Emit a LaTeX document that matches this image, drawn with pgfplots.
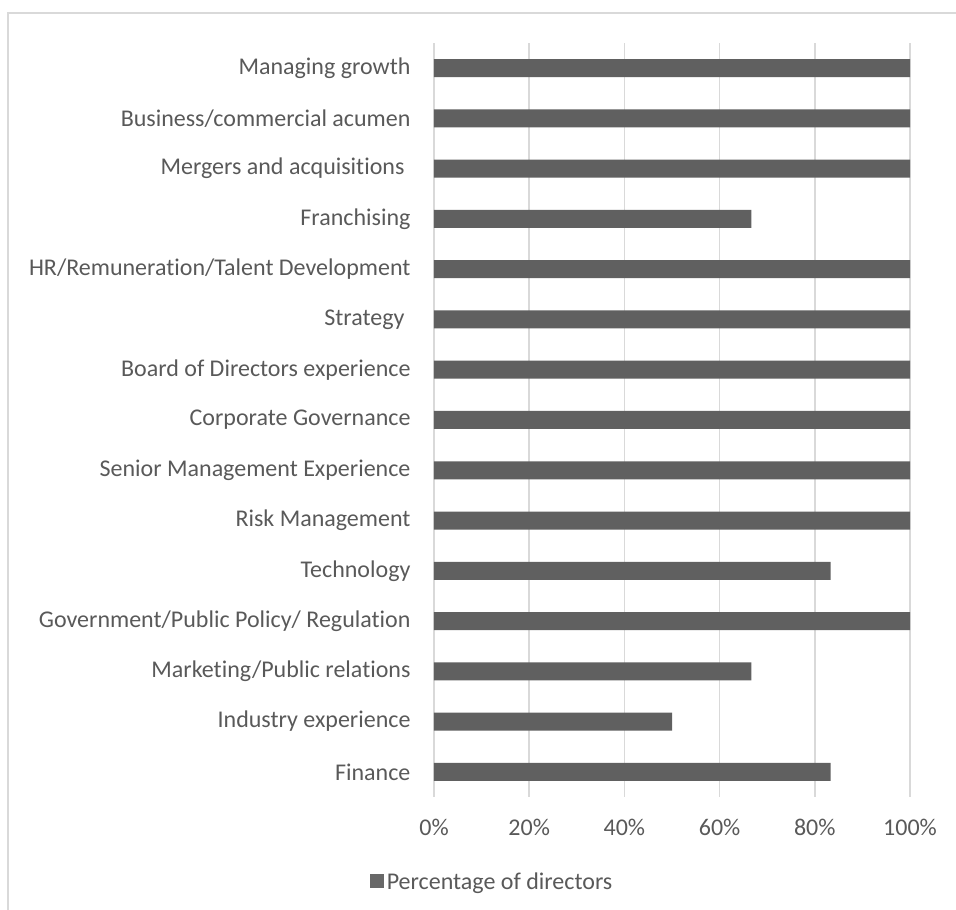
\documentclass[border=0pt]{standalone}
\usepackage{pgfplots}
\pgfplotsset{compat=1.18}
\usepackage{fontspec}
\setmainfont{Carlito}[RawFeature={-liga;-clig;-dlig;-calt}]
\definecolor{barc}{HTML}{606060}
\definecolor{txt}{HTML}{595959}
\definecolor{gridc}{HTML}{D9D9D9}
% break the t-i ligature
\newcommand{\ti}{t\kern0pt i}

\pgfplotstableread{
pos val
0 83.3
1 50
2 66.7
3 100
4 83.3
5 100
6 100
7 100
8 100
9 100
10 100
11 66.7
12 100
13 100
14 100
}\directors

\begin{document}
\begin{tikzpicture}[x=1pt,y=1pt]
\useasboundingbox (0,0) rectangle (956,910);
% outer chart frame (only top and left edges are in view)
\draw[gridc, line width=2pt] (8,-20) -- (8,897) -- (990,897);
\begin{axis}[
    at={(434pt,113pt)}, anchor=south west,
    scale only axis,
    width=476pt, height=754pt,
    xbar, bar width=18pt,
    xmin=0, xmax=100,
    ymin=-0.5, ymax=14.5,
    enlargelimits=false,
    axis line style={draw=none},
    major tick length=0pt,
    xtick={0,20,40,60,80,100},
    xticklabel={\pgfmathprintnumber{\tick}\%},
    xmajorgrids,
    grid style={gridc, line width=1.5pt},
    ytick={0,...,14},
    yticklabels={Finance, Industry experience, Marketing/Public rela\ti ons,
      Government/Public Policy/ Regula\ti on, Technology, Risk Management,
      Senior Management Experience, Corporate Governance,
      Board of Directors experience, Strategy\hspace*{6pt},
      HR/Remunera\ti on/Talent Development, Franchising,
      Mergers and acquisi\ti ons\hspace*{6pt}, Business/commercial acumen,
      Managing growth},
    tick label style={font=\fontsize{24}{28}\selectfont, text=txt},
    xticklabel style={yshift=-19pt},
    yticklabel style={xshift=-20pt},
    /pgf/number format/assume math mode=true,
    legend style={at={(0.123,-0.112)}, anchor=center, draw=none,
      font=\fontsize{24}{28}\selectfont, text=txt,
      nodes={inner xsep=3pt}},
    legend image code/.code={\fill[barc!95] (0pt,-7pt) rectangle (14pt,7pt);},
]
\addplot[fill=barc, draw=none] table[x=val, y=pos] {\directors};
\addlegendentry{Percentage of directors}
\end{axis}
\end{tikzpicture}
\end{document}
